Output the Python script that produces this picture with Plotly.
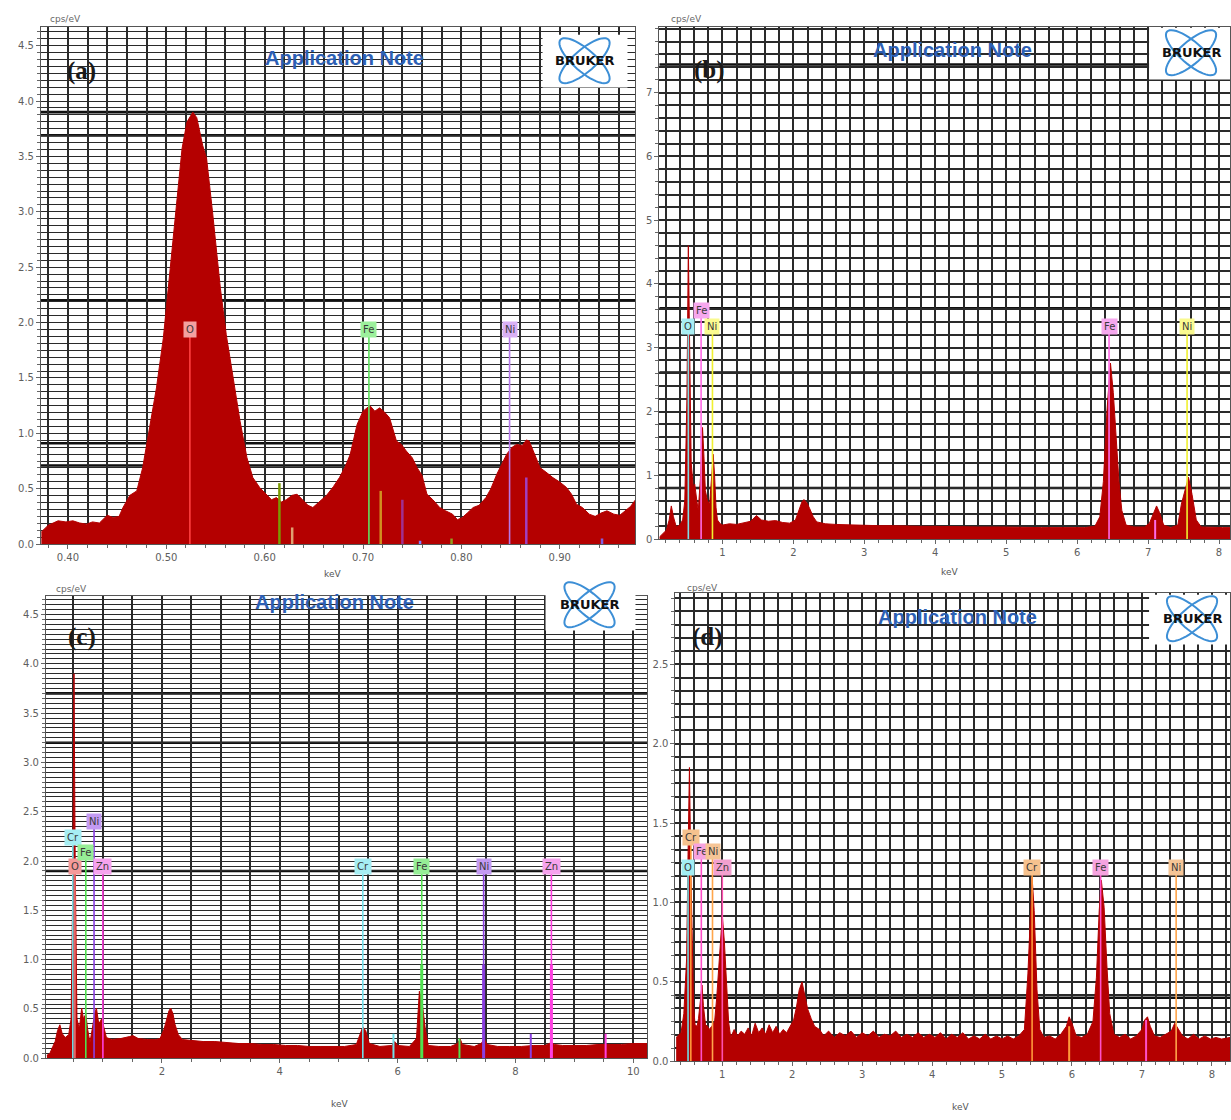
import math
import plotly.graph_objects as go

W, H = 1231, 1120

# ---------------- (a) O-K / Fe-L / Ni-L window ----------------
a_kev = [0.373, 0.380, 0.390, 0.398, 0.405, 0.412, 0.419, 0.425, 0.432, 0.440,
         0.446, 0.452, 0.456, 0.463, 0.470, 0.476, 0.483, 0.490, 0.497, 0.504,
         0.511, 0.516, 0.521, 0.527, 0.531, 0.537, 0.541, 0.547, 0.555, 0.561,
         0.568, 0.575, 0.582, 0.588, 0.595, 0.602, 0.607, 0.612, 0.617, 0.622,
         0.628, 0.633, 0.639, 0.644, 0.649, 0.655, 0.663, 0.670, 0.676, 0.682,
         0.687, 0.694, 0.700, 0.707, 0.712, 0.717, 0.722, 0.727, 0.734, 0.739,
         0.744, 0.750, 0.755, 0.760, 0.765, 0.771, 0.778, 0.784, 0.791, 0.796,
         0.801, 0.806, 0.812, 0.818, 0.825, 0.830, 0.836, 0.841, 0.846, 0.851,
         0.856, 0.862, 0.866, 0.869, 0.874, 0.880, 0.886, 0.893, 0.900, 0.907,
         0.912, 0.917, 0.923, 0.930, 0.936, 0.942, 0.948, 0.955, 0.961, 0.967,
         0.972, 0.977]
a_cps = [0.11, 0.17, 0.21, 0.20, 0.21, 0.19, 0.18, 0.20, 0.19, 0.26,
         0.24, 0.25, 0.33, 0.44, 0.48, 0.69, 1.05, 1.41, 1.86, 2.46,
         3.12, 3.57, 3.81, 3.90, 3.85, 3.60, 3.48, 3.00, 2.31, 1.89,
         1.50, 1.11, 0.78, 0.60, 0.51, 0.45, 0.40, 0.42, 0.38, 0.40,
         0.44, 0.45, 0.39, 0.35, 0.33, 0.38, 0.44, 0.52, 0.60, 0.70,
         0.81, 1.08, 1.20, 1.25, 1.20, 1.23, 1.19, 1.14, 0.93, 0.90,
         0.84, 0.78, 0.69, 0.62, 0.45, 0.40, 0.33, 0.30, 0.27, 0.22,
         0.24, 0.28, 0.33, 0.35, 0.42, 0.50, 0.63, 0.72, 0.81, 0.87,
         0.90, 0.89, 0.94, 0.93, 0.82, 0.69, 0.65, 0.60, 0.56, 0.51,
         0.45, 0.36, 0.33, 0.27, 0.25, 0.28, 0.30, 0.27, 0.26, 0.30,
         0.34, 0.40]
a_elem = ["O", "Fe", "Ni"]
a_elem_kev = [0.524, 0.706, 0.849]
a_elem_lbl = [1.94, 1.94, 1.94]
a_minor_kev = [0.615, 0.628, 0.718, 0.740, 0.758, 0.790, 0.866, 0.943]
a_minor_cps = [0.55, 0.15, 0.48, 0.40, 0.03, 0.05, 0.60, 0.05]

# ---------------- (b) full spectrum, Fe-Ni sample ----------------
b_kev = [0.11, 0.16, 0.21, 0.25, 0.28, 0.31, 0.35, 0.40, 0.44, 0.47,
         0.50, 0.52, 0.54, 0.56, 0.59, 0.61, 0.64, 0.66, 0.69, 0.72,
         0.74, 0.76, 0.79, 0.82, 0.85, 0.87, 0.89, 0.91, 0.93, 0.97,
         1.00, 1.10, 1.20, 1.30, 1.40, 1.48, 1.55, 1.65, 1.75, 1.85,
         1.95, 2.03, 2.08, 2.12, 2.15, 2.19, 2.23, 2.28, 2.33, 2.45,
         2.60, 2.80, 3.00, 3.20, 3.40, 3.60, 3.80, 4.00, 4.30, 4.60,
         4.90, 5.20, 5.50, 5.80, 6.10, 6.25, 6.32, 6.37, 6.42, 6.47,
         6.51, 6.55, 6.59, 6.63, 6.69, 6.80, 6.95, 7.02, 7.08, 7.12,
         7.16, 7.22, 7.32, 7.42, 7.47, 7.52, 7.57, 7.62, 7.68, 7.75,
         7.90, 8.05, 8.16]
b_cps = [0.03, 0.08, 0.14, 0.30, 0.52, 0.35, 0.19, 0.22, 0.30, 0.60,
         2.20, 4.60, 3.20, 1.20, 0.80, 0.86, 0.60, 0.45, 0.95, 1.75,
         1.30, 0.76, 0.60, 0.55, 1.00, 1.33, 1.00, 0.50, 0.30, 0.24,
         0.22, 0.24, 0.23, 0.25, 0.28, 0.37, 0.30, 0.28, 0.29, 0.26,
         0.25, 0.30, 0.45, 0.58, 0.62, 0.57, 0.48, 0.35, 0.27, 0.24,
         0.23, 0.22, 0.22, 0.21, 0.21, 0.20, 0.20, 0.20, 0.19, 0.19,
         0.19, 0.18, 0.18, 0.18, 0.18, 0.20, 0.35, 0.90, 2.00, 2.76,
         2.30, 1.60, 0.90, 0.45, 0.22, 0.19, 0.19, 0.25, 0.42, 0.52,
         0.42, 0.22, 0.18, 0.22, 0.55, 0.75, 0.97, 0.70, 0.30, 0.19,
         0.18, 0.18, 0.18]
b_elem = ["O", "Fe", "Ni", "Fe", "Ni"]
b_elem_kev = [0.52, 0.70, 0.86, 6.45, 7.55]
b_elem_lbl = [3.34, 3.59, 3.34, 3.34, 3.34]
b_minor_kev = [7.10]
b_minor_cps = [0.30]

# ---------------- (c) full spectrum, Cr-Fe-Ni-Zn sample ----------------
c_kev = [0.05, 0.10, 0.15, 0.19, 0.23, 0.27, 0.31, 0.36, 0.42, 0.46,
         0.49, 0.51, 0.53, 0.56, 0.60, 0.64, 0.67, 0.71, 0.74, 0.78,
         0.82, 0.86, 0.89, 0.93, 0.98, 1.02, 1.06, 1.15, 1.30, 1.45,
         1.51, 1.60, 1.75, 1.90, 1.97, 2.04, 2.08, 2.12, 2.15, 2.19,
         2.22, 2.28, 2.35, 2.50, 2.70, 2.90, 3.10, 3.30, 3.50, 3.70,
         3.90, 4.10, 4.30, 4.50, 4.70, 4.90, 5.10, 5.30, 5.36, 5.41,
         5.46, 5.52, 5.70, 5.90, 5.95, 6.00, 6.20, 6.32, 6.37, 6.42,
         6.47, 6.52, 6.70, 6.90, 7.02, 7.06, 7.10, 7.30, 7.42, 7.47,
         7.52, 7.70, 7.90, 8.10, 8.30, 8.50, 8.61, 8.66, 8.80, 9.00,
         9.20, 9.40, 9.60, 9.80, 10.00, 10.24]
c_cps = [0.03, 0.05, 0.12, 0.17, 0.28, 0.34, 0.25, 0.21, 0.24, 0.40,
         1.80, 3.90, 2.00, 0.40, 0.30, 0.51, 0.40, 0.45, 0.30, 0.16,
         0.30, 0.45, 0.51, 0.35, 0.40, 0.30, 0.21, 0.19, 0.20, 0.22,
         0.23, 0.20, 0.19, 0.19, 0.20, 0.30, 0.38, 0.48, 0.51, 0.45,
         0.35, 0.24, 0.19, 0.18, 0.17, 0.17, 0.16, 0.15, 0.15, 0.14,
         0.14, 0.13, 0.13, 0.12, 0.12, 0.12, 0.12, 0.14, 0.25, 0.32,
         0.28, 0.15, 0.12, 0.13, 0.17, 0.13, 0.12, 0.20, 0.68, 0.55,
         0.30, 0.13, 0.12, 0.12, 0.15, 0.20, 0.14, 0.12, 0.15, 0.20,
         0.14, 0.12, 0.12, 0.12, 0.13, 0.13, 0.16, 0.14, 0.13, 0.13,
         0.13, 0.14, 0.14, 0.14, 0.15, 0.15]
c_elem = ["Cr", "O", "Fe", "Ni", "Zn", "Cr", "Fe", "Ni", "Zn"]
c_elem_kev = [0.49, 0.525, 0.71, 0.85, 1.00, 5.41, 6.41, 7.46, 8.61]
c_elem_lbl = [2.24, 1.94, 2.09, 2.40, 1.94, 1.94, 1.94, 1.94, 1.94]
c_bar_elem = ["Fe", "Ni", "Zn"]
c_bar_kev = [6.41, 7.46, 8.61]
c_bar_cps = [0.95, 0.95, 0.95]
c_minor_elem = ["Cr", "Fe", "Ni", "Zn"]
c_minor_kev = [5.93, 7.05, 8.26, 9.53]
c_minor_cps = [0.25, 0.20, 0.25, 0.25]

# ---------------- (d) full spectrum, Cr-Fe-Ni-Zn oxide ----------------
d_kev = [0.34, 0.38, 0.41, 0.45, 0.49, 0.51, 0.53, 0.55, 0.57, 0.59,
         0.61, 0.64, 0.66, 0.69, 0.71, 0.73, 0.76, 0.79, 0.81, 0.85,
         0.89, 0.92, 0.95, 0.98, 1.00, 1.03, 1.06, 1.09, 1.12, 1.17,
         1.22, 1.27, 1.32, 1.37, 1.42, 1.47, 1.52, 1.57, 1.62, 1.67,
         1.72, 1.77, 1.82, 1.87, 1.92, 1.97, 2.02, 2.06, 2.10, 2.14,
         2.18, 2.22, 2.27, 2.32, 2.39, 2.45, 2.52, 2.60, 2.68, 2.76,
         2.84, 2.92, 3.00, 3.08, 3.16, 3.24, 3.32, 3.40, 3.48, 3.56,
         3.64, 3.72, 3.80, 3.88, 3.96, 4.04, 4.12, 4.20, 4.28, 4.36,
         4.44, 4.52, 4.60, 4.68, 4.76, 4.84, 4.92, 5.00, 5.08, 5.16,
         5.24, 5.32, 5.37, 5.41, 5.43, 5.46, 5.50, 5.54, 5.60, 5.68,
         5.76, 5.84, 5.92, 5.96, 6.00, 6.06, 6.14, 6.22, 6.30, 6.35,
         6.39, 6.42, 6.46, 6.50, 6.54, 6.60, 6.68, 6.76, 6.84, 6.92,
         7.00, 7.04, 7.08, 7.12, 7.18, 7.26, 7.34, 7.42, 7.47, 7.52,
         7.58, 7.66, 7.74, 7.82, 7.90, 7.98, 8.06, 8.14, 8.26]
d_cps = [0.15, 0.17, 0.18, 0.30, 0.65, 1.30, 1.85, 1.20, 0.65, 0.35,
         0.23, 0.22, 0.27, 0.40, 0.48, 0.35, 0.23, 0.22, 0.20, 0.22,
         0.25, 0.40, 0.58, 0.80, 0.92, 0.75, 0.46, 0.25, 0.15, 0.20,
         0.16, 0.19, 0.17, 0.21, 0.16, 0.24, 0.18, 0.21, 0.17, 0.23,
         0.18, 0.22, 0.17, 0.20, 0.18, 0.22, 0.26, 0.34, 0.45, 0.50,
         0.42, 0.33, 0.27, 0.22, 0.20, 0.16, 0.19, 0.15, 0.18, 0.16,
         0.19, 0.15, 0.18, 0.16, 0.19, 0.15, 0.17, 0.16, 0.19, 0.15,
         0.17, 0.15, 0.18, 0.15, 0.17, 0.15, 0.18, 0.14, 0.17, 0.15,
         0.18, 0.14, 0.16, 0.14, 0.17, 0.14, 0.16, 0.14, 0.16, 0.14,
         0.16, 0.20, 0.55, 1.00, 1.16, 0.95, 0.45, 0.20, 0.15, 0.16,
         0.14, 0.17, 0.22, 0.28, 0.24, 0.16, 0.15, 0.17, 0.25, 0.53,
         0.95, 1.14, 0.97, 0.60, 0.30, 0.17, 0.15, 0.17, 0.14, 0.16,
         0.20, 0.26, 0.28, 0.22, 0.16, 0.15, 0.17, 0.19, 0.24, 0.20,
         0.16, 0.14, 0.17, 0.14, 0.16, 0.14, 0.15, 0.14, 0.15]
d_elem = ["O", "Cr", "Fe", "Ni", "Zn", "Cr", "Fe", "Ni"]
d_elem_kev = [0.51, 0.55, 0.70, 0.86, 1.00, 5.43, 6.41, 7.49]
d_elem_lbl = [1.22, 1.41, 1.32, 1.32, 1.22, 1.22, 1.22, 1.22]
d_minor_elem = ["Cr", "Fe"]
d_minor_kev = [5.96, 7.06]
d_minor_cps = [0.22, 0.26]

# ---------------- styling ----------------
SPEC_RED = "#b40000"
GRID = "#2a2a2a"
TICK_FONT = dict(family="DejaVu Sans", size=10, color="#5e5e5e")
BLUE = "#2d60b4"

# element colours: (marker line, label box)
A_COL = {"O": ("#ff4040", "#f3a0a0"), "Fe": ("#5ee05e", "#9cf09c"), "Ni": ("#b678e8", "#d9b0f5")}
A_MINOR_COL = ["#7a9a00", "#e0a070", "#d09020", "#a03090", "#8080ff", "#90a020", "#a040c0", "#8060e0"]
B_COL = {"O": ("#7fdde6", "#a8eef3"), "Fe": ("#ff6ae6", "#f6a8ee"), "Ni": ("#f0f030", "#fafa90")}
C_COL = {"O": ("#f07070", "#f49a9a"), "Cr": ("#72dfe8", "#a6eef3"), "Fe": ("#4fe04f", "#96ee96"),
         "Ni": ("#8a3ee0", "#c39af2"), "Zn": ("#ff3fe0", "#f6a3ee")}
D_COL = {"O": ("#6fdde6", "#a2eef3"), "Cr": ("#ff9a3a", "#f6c28e"), "Fe": ("#ff4fc8", "#f6a3e0"),
         "Ni": ("#ffa54a", "#f6c596"), "Zn": ("#ff4fb0", "#f3a0cf")}

# heavy horizontal rules printed across each grid (cps/eV)
HEAVY = {
    "a": [3.90, 3.69, 2.20, 0.91, 0.71],
    "b": [7.44, 3.62, 2.61, 0.80],
    "c": [3.70, 3.20, 1.90],
    "d": [0.40],
}

fig = go.Figure()

panels = [
    ("a", "", a_kev, a_cps, a_elem, a_elem_kev, a_elem_lbl, A_COL),
    ("b", "2", b_kev, b_cps, b_elem, b_elem_kev, b_elem_lbl, B_COL),
    ("c", "3", c_kev, c_cps, c_elem, c_elem_kev, c_elem_lbl, C_COL),
    ("d", "4", d_kev, d_cps, d_elem, d_elem_kev, d_elem_lbl, D_COL),
]

shapes = []
annotations = []

for key, sfx, kev, cps, elem, ekev, elbl, cols in panels:
    xr, yr = "x" + sfx, "y" + sfx
    fig.add_trace(go.Scatter(
        x=kev, y=cps, xaxis=xr, yaxis=yr, mode="lines", fill="tozeroy",
        line=dict(color=SPEC_RED, width=1), fillcolor=SPEC_RED,
        hoverinfo="x+y", showlegend=False,
    ))
    for v in HEAVY[key]:
        shapes.append(dict(type="line", xref=xr + " domain", yref=yr, x0=0, x1=1, y0=v, y1=v,
                           line=dict(color="#111111", width=2.6), layer="below"))
    for name, xv, lv in zip(elem, ekev, elbl):
        shapes.append(dict(type="line", xref=xr, yref=yr, x0=xv, x1=xv, y0=0, y1=lv,
                           line=dict(color=cols[name][0], width=1.6), layer="above"))
    for name, xv, lv in zip(elem, ekev, elbl):
        annotations.append(dict(x=xv, y=lv, xref=xr, yref=yr, text=name, showarrow=False,
                                bgcolor=cols[name][1], borderpad=2,
                                font=dict(family="DejaVu Sans", size=10, color="#3a3a3a")))

# short intensity markers inside the spectra
for xv, hv, col in zip(a_minor_kev, a_minor_cps, A_MINOR_COL):
    shapes.append(dict(type="line", xref="x", yref="y", x0=xv, x1=xv, y0=0, y1=hv,
                       line=dict(color=col, width=2.5), layer="above"))
for xv, hv in zip(b_minor_kev, b_minor_cps):
    shapes.append(dict(type="line", xref="x2", yref="y2", x0=xv, x1=xv, y0=0, y1=hv,
                       line=dict(color=B_COL["Fe"][0], width=2), layer="above"))
for name, xv, hv in zip(c_bar_elem, c_bar_kev, c_bar_cps):
    shapes.append(dict(type="line", xref="x3", yref="y3", x0=xv, x1=xv, y0=0, y1=hv,
                       line=dict(color=C_COL[name][0], width=3), layer="above"))
for name, xv, hv in zip(c_minor_elem, c_minor_kev, c_minor_cps):
    shapes.append(dict(type="line", xref="x3", yref="y3", x0=xv, x1=xv, y0=0, y1=hv,
                       line=dict(color=C_COL[name][0], width=2), layer="above"))
for name, xv, hv in zip(d_minor_elem, d_minor_kev, d_minor_cps):
    shapes.append(dict(type="line", xref="x4", yref="y4", x0=xv, x1=xv, y0=0, y1=hv,
                       line=dict(color=D_COL[name][0], width=2), layer="above"))


def px(xp, yp):
    return xp / W, 1 - yp / H


def ellipse_path(cx, cy, rx, ry, ang):
    # closed polygon in page pixels, converted to paper fractions
    pts = []
    ca, sa = math.cos(ang), math.sin(ang)
    for i in range(49):
        t = 2 * math.pi * i / 48
        ex, ey = rx * math.cos(t), ry * math.sin(t)
        xx, yy = px(cx + ex * ca - ey * sa, cy + ex * sa + ey * ca)
        pts.append((xx, yy))
    return "M " + " L ".join(f"{p[0]:.5f},{p[1]:.5f}" for p in pts) + " Z"


def logo(cx, cy, box):
    x0, y1 = px(box[0], box[1])
    x1, y0 = px(box[2], box[3])
    shapes.append(dict(type="rect", xref="paper", yref="paper", x0=x0, x1=x1, y0=y0, y1=y1,
                       fillcolor="white", line=dict(width=0), layer="above"))
    for ang in (0.72, -0.72):
        shapes.append(dict(type="path", xref="paper", yref="paper",
                           path=ellipse_path(cx, cy, 32, 11, ang),
                           line=dict(color="#3d8fd6", width=2), layer="above"))
    ax, ay = px(cx, cy)
    annotations.append(dict(x=ax, y=ay, xref="paper", yref="paper", text="<b>BRUKER</b>",
                            xanchor="center", yanchor="middle", showarrow=False,
                            font=dict(family="DejaVu Sans", size=13, color="#111111")))


logo(585, 61, (543, 35, 628, 88))
logo(1192, 53, (1150, 28, 1231, 80))
logo(590, 608, (546, 586, 636, 634))
logo(1193, 622, (1150, 598, 1231, 648))


def text(xp, yp, s, **font):
    x, y = px(xp, yp)
    annotations.append(dict(x=x, y=y, xref="paper", yref="paper", text=s, showarrow=False,
                            xanchor="center", yanchor="middle", font=font))


for xp, yp in [(345, 58), (953, 50), (335, 605), (958, 620)]:
    text(xp, yp, "<b>Application Note</b>", family="Liberation Sans", size=20, color=BLUE)

for xp, yp, s in [(82, 71, "(a)"), (710, 70, "(b)"), (82, 640, "(c)"), (708, 640, "(d)")]:
    text(xp, yp, f"<b>{s}</b>", family="Liberation Serif", size=25, color="#1a1a1a")

for xp, yp in [(66, 19), (687, 19), (72, 592), (703, 591)]:
    text(xp, yp, "cps/eV", family="DejaVu Sans", size=9, color="#666666")

for xp, yp in [(333, 577), (950, 575), (340, 1110), (961, 1113)]:
    text(xp, yp, "keV", family="DejaVu Sans", size=9, color="#555555")


def axis(rng, dtick, minor, gw=1.5, mgw=1.5, tickvals=None, fmt=None, anchor="y"):
    d = dict(range=rng, anchor=anchor,
             showgrid=True, gridcolor=GRID, gridwidth=gw,
             showline=True, linecolor="#555555", mirror=True, linewidth=1,
             ticks="outside", ticklen=4, tickcolor="#666666", tickfont=TICK_FONT,
             minor=dict(dtick=minor, showgrid=True, gridcolor=GRID, gridwidth=mgw,
                        ticks="outside", ticklen=3, tickcolor="#666666"),
             zeroline=False, fixedrange=True)
    if tickvals is not None:
        d["tickvals"] = tickvals
    else:
        d["dtick"] = dtick
        d["tick0"] = 0
    if fmt:
        d["tickformat"] = fmt
    return d


def xaxis(dom, *args, **kw):
    d = axis(*args, **kw)
    d["domain"] = [dom[0] / W, dom[1] / W]
    return d


def yaxis(dom, *args, **kw):
    d = axis(*args, **kw)
    d["domain"] = [1 - dom[1] / H, 1 - dom[0] / H]
    return d


fig.update_layout(
    width=W, height=H, margin=dict(l=0, r=0, t=0, b=0),
    paper_bgcolor="white", plot_bgcolor="white",
    xaxis=xaxis((41, 636), [0.3726, 0.977], 0.1, 0.02, fmt=".2f", anchor="y"),
    yaxis=yaxis((27, 547), [0, 4.67], 0.5, 0.0625, gw=1.2, mgw=1.2, fmt=".1f", anchor="x"),
    xaxis2=xaxis((660, 1231), [0.113, 8.155], 1, 0.2, anchor="y2"),
    yaxis2=yaxis((27, 542), [0, 8.03], 1, 0.2, tickvals=[0, 1, 2, 3, 4, 5, 6, 7], anchor="x2"),
    xaxis3=xaxis((46, 648), [0.034, 10.24], 2, 0.5, anchor="y3"),
    yaxis3=yaxis((599, 1064), [0, 4.69], 0.5, 0.05, gw=1.1, mgw=1.1, fmt=".1f", anchor="x3"),
    xaxis4=xaxis((676, 1231), [0.33, 8.26], 1, 0.2, anchor="y4"),
    yaxis4=yaxis((596, 1067), [0, 2.95], 0.5, 0.5 / 6, fmt=".1f", anchor="x4"),
    shapes=shapes, annotations=annotations,
)

fig.write_html("out.html")
